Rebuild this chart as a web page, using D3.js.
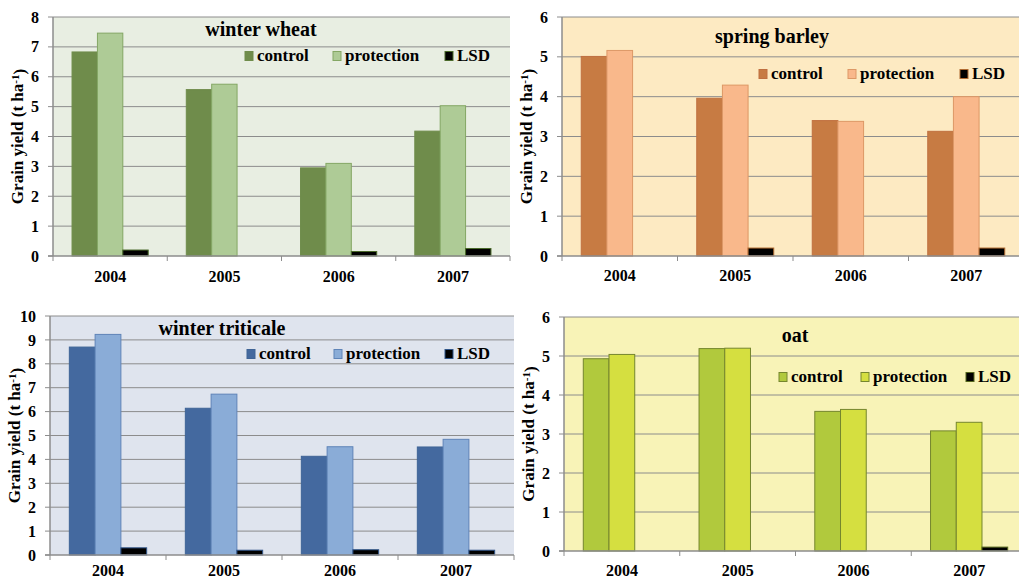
<!DOCTYPE html>
<html>
<head>
<meta charset="utf-8">
<script src="https://cdn.jsdelivr.net/npm/d3@7"></script>
<style>
  body { margin: 0; background: #fff; }
  text { font-family: "Liberation Serif", "Times New Roman", serif; font-weight: bold; fill: #000; }
</style>
</head>
<body>
<svg width="1019" height="580"></svg>
<script>
// data
const years = ['2004', '2005', '2006', '2007'];
const seriesNames = ['control', 'protection', 'LSD'];

const wheatControl    = [6.83, 5.57, 2.95, 4.18];
const wheatProtection = [7.46, 5.75, 3.10, 5.03];
const wheatLSD        = [0.20, null, 0.15, 0.25];

const barleyControl    = [5.01, 3.96, 3.40, 3.13];
const barleyProtection = [5.16, 4.29, 3.38, 4.00];
const barleyLSD        = [null, 0.20, null, 0.20];

const triticaleControl    = [8.70, 6.14, 4.13, 4.52];
const triticaleProtection = [9.23, 6.73, 4.53, 4.84];
const triticaleLSD        = [0.30, 0.20, 0.22, 0.20];

const oatControl    = [4.93, 5.19, 3.58, 3.08];
const oatProtection = [5.04, 5.20, 3.63, 3.30];
const oatLSD        = [null, null, null, 0.10];

const svg = d3.select('svg');

const panels = [
  { title: 'winter wheat', ymax: 8, vals: [wheatControl, wheatProtection, wheatLSD],
    x0: 53, x1: 510, y0: 17, y1: 256, bg: '#e8eee2', xlabOff: 26,
    fill: ['#6f8c4b', '#aecb96', '#000'], stroke: ['#6f8c4b', '#84a764', '#4a6a2a'],
    titleX: 261, titleY: 36, legY: 61, legX: [245, 333, 445] },
  { title: 'spring barley', ymax: 6, vals: [barleyControl, barleyProtection, barleyLSD],
    x0: 562, x1: 1024, y0: 17, y1: 256, bg: '#fdeac2', xlabOff: 25,
    fill: ['#c77b43', '#f9b88b', '#000'], stroke: ['#c07040', '#dd9866', '#b06a30'],
    titleX: 772, titleY: 43, legY: 79, legX: [759, 848, 960] },
  { title: 'winter triticale', ymax: 10, vals: [triticaleControl, triticaleProtection, triticaleLSD],
    x0: 50, x1: 514, y0: 316, y1: 555, bg: '#dfe4ee', xlabOff: 21,
    fill: ['#44699f', '#8aacd7', '#000'], stroke: ['#3f6496', '#5f84b8', '#2f5488'],
    titleX: 222, titleY: 335, legY: 359, legX: [247, 334, 445] },
  { title: 'oat', ymax: 6, vals: [oatControl, oatProtection, oatLSD],
    x0: 564, x1: 1027, y0: 317, y1: 551, bg: '#f8f3b7', xlabOff: 25,
    fill: ['#b1c93d', '#d5df40', '#000'], stroke: ['#75862e', '#75862e', '#55661e'],
    titleX: 795, titleY: 342, legY: 382, legX: [779, 861, 966] }
];

const gridColor = '#8c8c8c';

panels.forEach(p => {
  const g = svg.append('g');

  const x = d3.scaleBand().domain(years).range([p.x0, p.x1]).padding(0);
  const xs = d3.scaleBand().domain(seriesNames).range([0, x.bandwidth()])
    .paddingInner(0).paddingOuter(0.75);
  const y = d3.scaleLinear().domain([0, p.ymax]).range([p.y1, p.y0]);

  g.append('rect')
    .attr('x', p.x0).attr('y', p.y0)
    .attr('width', p.x1 - p.x0).attr('height', p.y1 - p.y0)
    .attr('fill', p.bg);

  const ticks = d3.range(0, p.ymax + 1);

  g.selectAll('.grid').data(ticks.filter(t => t > 0)).enter().append('line')
    .attr('x1', p.x0).attr('x2', p.x1)
    .attr('y1', d => y(d)).attr('y2', d => y(d))
    .attr('stroke', gridColor).attr('stroke-width', 1);

  // bars
  p.vals.forEach((arr, si) => {
    g.selectAll('.bar' + si)
      .data(arr.map((v, i) => ({ year: years[i], v })).filter(d => d.v != null))
      .enter().append('rect')
        .attr('x', d => x(d.year) + xs(seriesNames[si]))
        .attr('y', d => y(d.v))
        .attr('width', xs.bandwidth())
        .attr('height', d => y(0) - y(d.v))
        .attr('fill', p.fill[si])
        .attr('stroke', p.stroke[si])
        .attr('stroke-width', 1);
  });

  // y axis
  g.append('line')
    .attr('x1', p.x0).attr('x2', p.x0)
    .attr('y1', p.y0).attr('y2', p.y1)
    .attr('stroke', gridColor).attr('stroke-width', 1.5);
  g.selectAll('.ytick').data(ticks).enter().append('line')
    .attr('x1', p.x0 - 5).attr('x2', p.x0)
    .attr('y1', d => y(d)).attr('y2', d => y(d))
    .attr('stroke', gridColor).attr('stroke-width', 1);
  g.selectAll('.ylab').data(ticks).enter().append('text')
    .attr('x', p.x0 - 14).attr('y', d => y(d))
    .attr('dy', '0.35em')
    .attr('text-anchor', 'end')
    .attr('font-size', 16)
    .text(d => d);

  // x axis
  g.append('line')
    .attr('x1', p.x0 - 5).attr('x2', p.x1)
    .attr('y1', p.y1).attr('y2', p.y1)
    .attr('stroke', gridColor).attr('stroke-width', 1.5);
  const bounds = years.map(d => x(d)).concat([p.x1]);
  g.selectAll('.xtick').data(bounds).enter().append('line')
    .attr('x1', d => d).attr('x2', d => d)
    .attr('y1', p.y1).attr('y2', p.y1 + 5)
    .attr('stroke', gridColor).attr('stroke-width', 1);
  g.selectAll('.xlab').data(years).enter().append('text')
    .attr('x', d => x(d) + x.bandwidth() / 2)
    .attr('y', p.y1 + p.xlabOff)
    .attr('text-anchor', 'middle')
    .attr('font-size', 16)
    .text(d => d);

  // y title
  const yt = g.append('text')
    .attr('transform', `translate(${p.x0 - 36},${(p.y0 + p.y1) / 2}) rotate(-90)`)
    .attr('text-anchor', 'middle')
    .attr('dy', '0.35em')
    .attr('font-size', 17);
  yt.append('tspan').text('Grain yield (t ha');
  yt.append('tspan').attr('dy', '-0.4em').attr('font-size', 11).text('-1');
  yt.append('tspan').attr('dy', '0.4em').text(')');

  // title
  g.append('text')
    .attr('x', p.titleX).attr('y', p.titleY)
    .attr('text-anchor', 'middle')
    .attr('font-size', 20)
    .text(p.title);

  // legend
  seriesNames.forEach((s, i) => {
    g.append('rect')
      .attr('x', p.legX[i]).attr('y', p.legY - 9.5)
      .attr('width', 8).attr('height', 9)
      .attr('fill', p.fill[i])
      .attr('stroke', p.stroke[i]).attr('stroke-width', 1);
    g.append('text')
      .attr('x', p.legX[i] + 12).attr('y', p.legY)
      .attr('font-size', 17)
      .text(s);
  });
});
</script>
</body>
</html>
